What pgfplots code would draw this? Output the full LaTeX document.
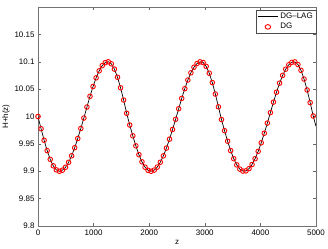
\documentclass[border=0pt]{standalone}
\usepackage{fontspec}
\setmainfont{Liberation Sans}
\usepackage{pgfplots}
\usepackage{pgfplotstable}
\pgfplotsset{compat=1.18}

% DG samples, every 55 in z
\pgfplotstableread{
z v
0 10.0000
55 9.9777
110 9.9566
165 9.9377
220 9.9218
275 9.9099
330 9.9025
385 9.9000
440 9.9019
495 9.9073
550 9.9163
605 9.9283
660 9.9430
715 9.9598
770 9.9781
825 9.9972
880 10.0173
935 10.0368
990 10.0548
1045 10.0706
1100 10.0834
1155 10.0928
1210 10.0984
1265 10.1000
1320 10.0962
1375 10.0865
1430 10.0717
1485 10.0525
1540 10.0301
1595 10.0058
1650 9.9844
1705 9.9647
1760 9.9464
1815 9.9303
1870 9.9172
1925 9.9075
1980 9.9017
2035 9.9000
2090 9.9021
2145 9.9076
2200 9.9164
2255 9.9281
2310 9.9423
2365 9.9586
2420 9.9763
2475 9.9949
2530 10.0142
2585 10.0331
2640 10.0508
2695 10.0666
2750 10.0798
2805 10.0900
2860 10.0967
2915 10.0998
2970 10.0986
3025 10.0916
3080 10.0791
3135 10.0619
3190 10.0410
3245 10.0177
3300 9.9944
3355 9.9741
3410 9.9549
3465 9.9377
3520 9.9230
3575 9.9116
3630 9.9039
3685 9.9003
3740 9.9007
3795 9.9048
3850 9.9123
3905 9.9229
3960 9.9363
4015 9.9520
4070 9.9694
4125 9.9880
4180 10.0071
4235 10.0262
4290 10.0444
4345 10.0609
4400 10.0751
4455 10.0864
4510 10.0945
4565 10.0990
4620 10.0997
4675 10.0949
4730 10.0843
4785 10.0684
4840 10.0484
4895 10.0254
4950 10.0009
}\dgdata

% DG-LAG line: same points plus the end of the domain
\pgfplotstableread{
z v
0 10.0000
55 9.9777
110 9.9566
165 9.9377
220 9.9218
275 9.9099
330 9.9025
385 9.9000
440 9.9019
495 9.9073
550 9.9163
605 9.9283
660 9.9430
715 9.9598
770 9.9781
825 9.9972
880 10.0173
935 10.0368
990 10.0548
1045 10.0706
1100 10.0834
1155 10.0928
1210 10.0984
1265 10.1000
1320 10.0962
1375 10.0865
1430 10.0717
1485 10.0525
1540 10.0301
1595 10.0058
1650 9.9844
1705 9.9647
1760 9.9464
1815 9.9303
1870 9.9172
1925 9.9075
1980 9.9017
2035 9.9000
2090 9.9021
2145 9.9076
2200 9.9164
2255 9.9281
2310 9.9423
2365 9.9586
2420 9.9763
2475 9.9949
2530 10.0142
2585 10.0331
2640 10.0508
2695 10.0666
2750 10.0798
2805 10.0900
2860 10.0967
2915 10.0998
2970 10.0986
3025 10.0916
3080 10.0791
3135 10.0619
3190 10.0410
3245 10.0177
3300 9.9944
3355 9.9741
3410 9.9549
3465 9.9377
3520 9.9230
3575 9.9116
3630 9.9039
3685 9.9003
3740 9.9007
3795 9.9048
3850 9.9123
3905 9.9229
3960 9.9363
4015 9.9520
4070 9.9694
4125 9.9880
4180 10.0071
4235 10.0262
4290 10.0444
4345 10.0609
4400 10.0751
4455 10.0864
4510 10.0945
4565 10.0990
4620 10.0997
4675 10.0949
4730 10.0843
4785 10.0684
4840 10.0484
4895 10.0254
4950 10.0009
5000 9.9821
}\lagdata

\begin{document}
\begin{tikzpicture}
\path[use as bounding box] (-38bp,-23bp) rectangle (290bp,226bp);
\begin{axis}[
  at={(0,0)}, anchor=south west,
  scale only axis, width=278bp, height=219bp,
  xmin=0, xmax=5000, ymin=9.8, ymax=10.2,
  xtick={0,1000,2000,3000,4000,5000},
  ytick={9.8,9.85,9.9,9.95,10,10.05,10.1,10.15},
  scaled x ticks=false, scaled y ticks=false,
  tick align=inside, major tick length=3bp,
  tick style={black!60, line width=0.4pt},
  axis line style={black!55, line width=0.8pt},
  font=\fontsize{8}{9}\selectfont,
  /pgf/number format/assume math mode=true,
  /pgf/number format/1000 sep={},
  xlabel={z}, ylabel={H+h(z)},
  xlabel style={yshift=2bp},
  ylabel style={yshift=-2bp},
  legend cell align=left,
  legend image post style={xscale=1.2},
  legend style={at={(1,0.986)}, anchor=north east, draw=black!70,
    line width=0.5pt, font=\fontsize{8}{9}\selectfont,
    inner sep=1pt, row sep=-1pt},
]
\addplot[black, line width=0.7pt] table[x=z, y=v] {\lagdata};
\addlegendentry{DG–LAG}
\addplot[only marks, mark=o, mark size=2.3pt, red, mark options={line width=0.9pt}] table[x=z, y=v] {\dgdata};
\addlegendentry{DG}
\end{axis}
\end{tikzpicture}
\end{document}
